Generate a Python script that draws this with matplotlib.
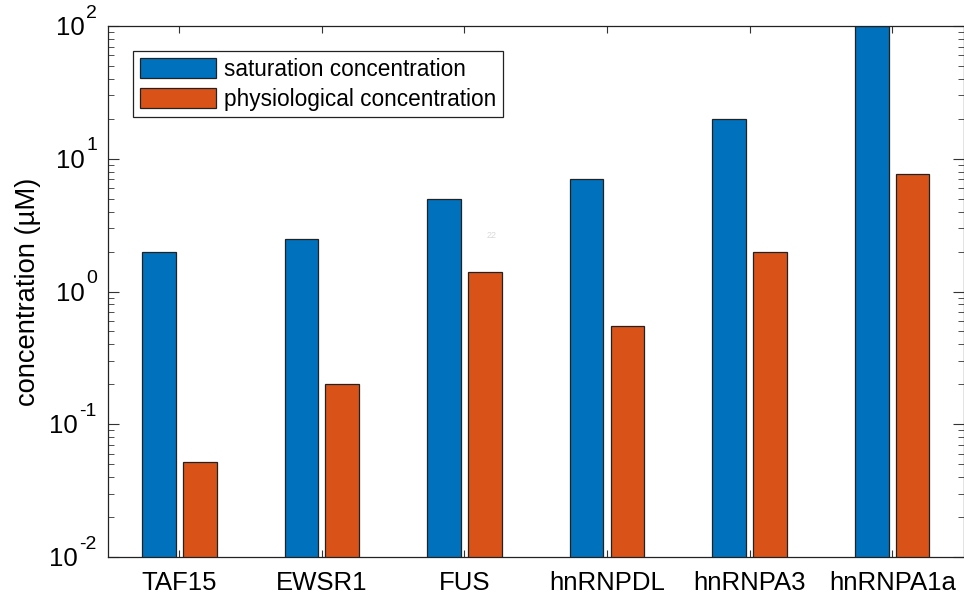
import numpy as np
import matplotlib
matplotlib.use("Agg")
import matplotlib.pyplot as plt
from matplotlib.ticker import LogLocator, NullFormatter
from matplotlib.transforms import blended_transform_factory

plt.rcParams['font.family'] = ['Liberation Sans', 'DejaVu Sans']

proteins = ["TAF15", "EWSR1", "FUS", "hnRNPDL", "hnRNPA3", "hnRNPA1a"]
saturation = [2.0, 2.5, 5.0, 7.0, 20.0, 100.0]
physiological = [0.052, 0.2, 1.4, 0.55, 2.0, 7.7]
exponents = [-2, -1, 0, 1, 2]

blue = "#0072BD"
orange = "#D95319"

fig = plt.figure(figsize=(9.64, 5.97), dpi=100)
ax = fig.add_axes([108/964, 1 - 557/597, 855.5/964, 531/597])

x = np.arange(1, len(proteins) + 1)
off = 0.143
w = 0.236
ax.bar(x - off, saturation, width=w, color=blue, edgecolor="#222222",
       linewidth=0.9, label="saturation concentration")
ax.bar(x + off, physiological, width=w, color=orange, edgecolor="#222222",
       linewidth=0.9, label="physiological concentration")

ax.set_yscale("log")
ax.set_ylim(1e-2, 1e2)
ax.set_xlim(0.5, 6.5)
ax.set_xticks(x)
ax.set_xticklabels(proteins)
ax.set_yticks([10.0**e for e in exponents])
ax.yaxis.set_major_formatter(NullFormatter())
ax.yaxis.set_minor_locator(LogLocator(base=10, subs=np.arange(2, 10)))
ax.yaxis.set_minor_formatter(NullFormatter())
ax.tick_params(axis="both", which="both", direction="in", top=True, right=True,
               labelsize=18.5, color="#333333")
ax.tick_params(axis="y", which="major", length=8, width=0.8)
ax.tick_params(axis="y", which="minor", length=4, width=0.6)
ax.tick_params(axis="x", which="major", length=5, width=0.8, pad=10)
for s in ax.spines.values():
    s.set_linewidth(0.9)
    s.set_color("#222222")

# y tick labels as 10 + raised exponent (bigger superscript like the original)
trans = blended_transform_factory(ax.transAxes, ax.transData)
renderer = fig.canvas.get_renderer()
for e in exponents:
    sup = ax.annotate(str(e), xy=(0, 10.0**e), xycoords=trans,
                      xytext=(-8, 6), textcoords="offset points",
                      ha="right", va="baseline", fontsize=14)
    sw = sup.get_window_extent(renderer).width * 72 / fig.dpi
    ax.annotate("10", xy=(0, 10.0**e), xycoords=trans,
                xytext=(-8 - sw - 1, -6.5), textcoords="offset points",
                ha="right", va="baseline", fontsize=18.5)

fig.text(28/964, 1 - 292/597, "concentration (µM)", fontsize=19.7,
         rotation=90, ha="center", va="center")

fig.text(492/964, 1 - 236/597, "22", fontsize=6.5, color="#d9d9d9",
         ha="center", va="center")

leg = ax.legend(loc="upper left", bbox_to_anchor=(133/964, 1 - 51/597),
                bbox_transform=fig.transFigure, fontsize=16.3, fancybox=False,
                framealpha=1, edgecolor="#222222", borderpad=0.3,
                handlelength=3.35, handleheight=1.0, handletextpad=0.35,
                labelspacing=0.3, borderaxespad=0)
leg.get_frame().set_linewidth(0.9)

fig.savefig("out.png", dpi=100)
